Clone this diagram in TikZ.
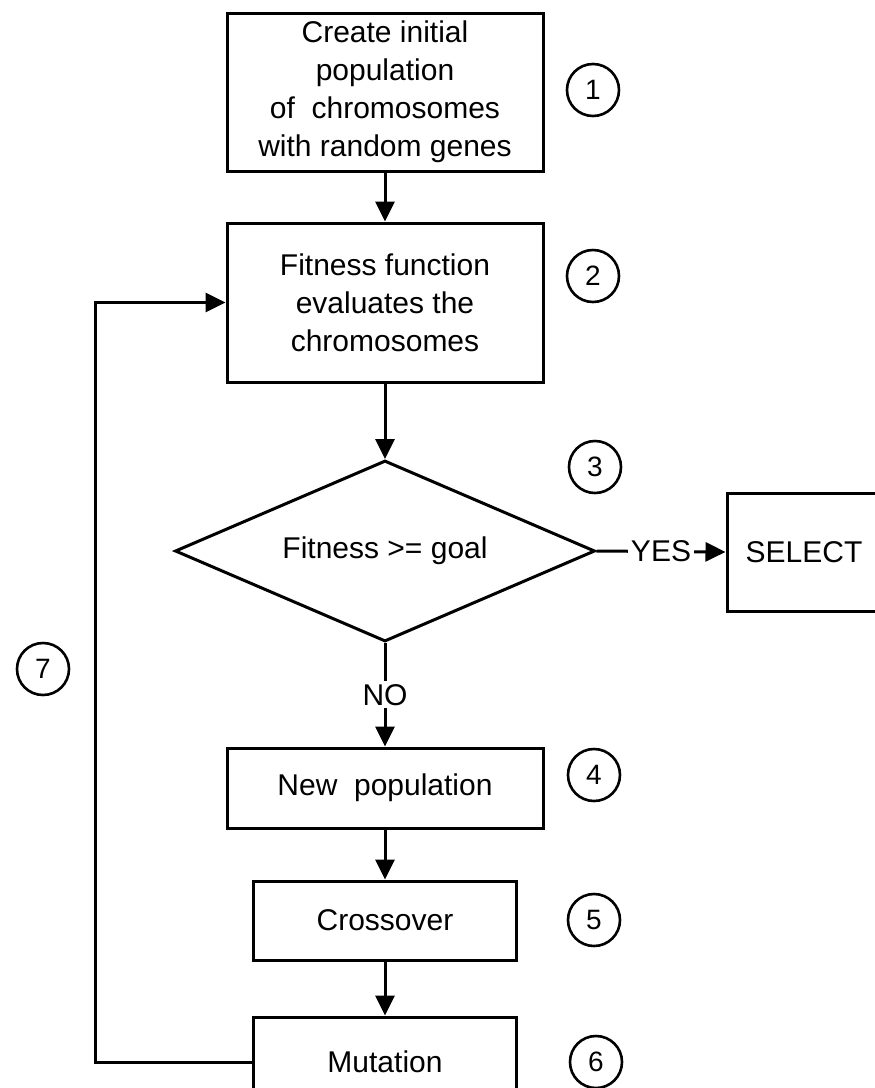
\documentclass[tikz,border=0pt]{standalone}
\usepackage{fontspec}
\setmainfont{Liberation Sans}
\usetikzlibrary{arrows.meta,shapes.geometric}
\begin{document}
\begin{tikzpicture}[x=1pt,y=-1pt,
  every node/.style={font=\fontsize{30}{38}\selectfont},
  stepbox/.style={draw,line width=3pt,align=center,inner sep=0pt},
  decision/.style={draw,diamond,shape aspect=2.32,line width=3pt,inner sep=0pt},
  num/.style={draw,circle,line width=2.6pt,minimum size=52pt,inner sep=0pt,font=\fontsize{28}{30}\selectfont},
  flow/.style={line width=3pt,-{Triangle[length=20pt,width=19pt]}},
  tag/.style={fill=white,inner sep=3pt}]
\useasboundingbox (0,0) rectangle (875,1088);
\fill[white] (0,0) rectangle (875,1088);

% process steps
\node[stepbox,minimum width=316pt,minimum height=158pt] (init) at (385,92)
  {Create initial\\population\\of~ chromosomes\\with random genes};
\node[stepbox,minimum width=316pt,minimum height=159pt] (fit) at (385,302.5)
  {Fitness function\\evaluates the\\chromosomes};
\node[decision,minimum width=420pt,minimum height=181pt] (goal) at (385,551)
  {Fitness >= goal};
\node[stepbox,minimum width=154pt,minimum height=118pt] (sel) at (804,552) {SELECT};
\node[stepbox,minimum width=316pt,minimum height=80pt] (newpop) at (385,788)
  {New~ population};
\node[stepbox,minimum width=263pt,minimum height=79pt] (cross) at (385,920.5) {Crossover};
\node[stepbox,minimum width=263pt,minimum height=90pt] (mut) at (385,1062) {Mutation};

% step numbers
\node[num] (n1) at (593,90) {1};
\node[num] (n2) at (593,276) {2};
\node[num] (n3) at (595,467) {3};
\node[num] (n4) at (594,775) {4};
\node[num] (n5) at (594,920) {5};
\node[num] (n6) at (596,1062) {6};
\node[num] (n7) at (43,669) {7};

% connectors
\draw[flow] (init.south) -- (fit.north);
\draw[flow] (fit.south) -- (goal.north);
\draw[flow] (goal.east) -- node[tag] {YES} (sel.west);
\draw[flow] (goal.south) -- node[tag] {NO} (newpop.north);
\draw[flow] (newpop.south) -- (cross.north);
\draw[flow] (cross.south) -- (mut.north);
\coordinate (loop) at (95,1062);
\draw[flow] (mut.west) -- (loop) |- (fit.west);
\end{tikzpicture}
\end{document}
